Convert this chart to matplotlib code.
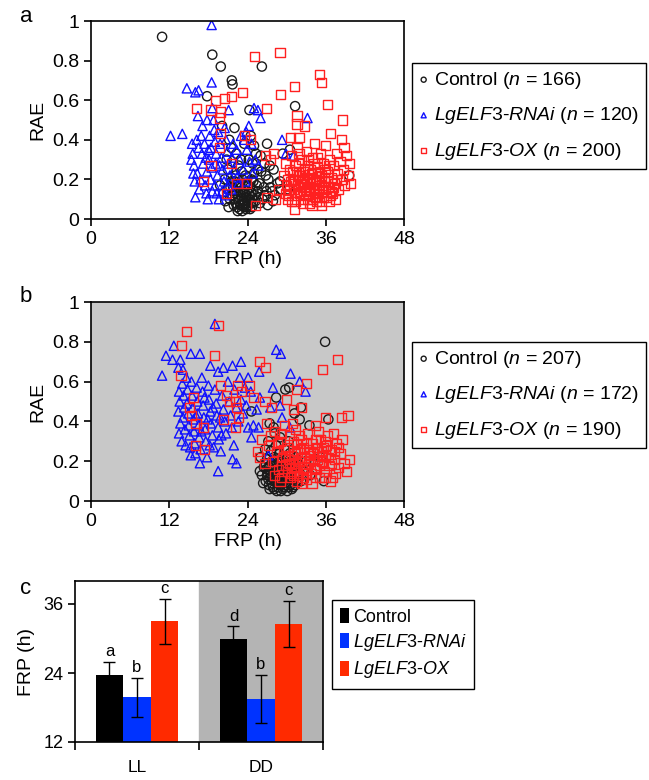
import matplotlib
matplotlib.use("Agg")
from matplotlib import pyplot as plt
from matplotlib.patches import Patch

plt.rcParams['font.family'] = ['Liberation Sans', 'DejaVu Sans']
plt.rcParams['mathtext.fontset'] = 'custom'
plt.rcParams['mathtext.it'] = 'Liberation Sans:italic'
plt.rcParams['mathtext.rm'] = 'Liberation Sans'

# ---- panel a (LL): (FRP h, RAE)
a_control = [
    (10.9, 0.92), (18.6, 0.83), (19.9, 0.77), (26.2, 0.77), (21.6, 0.70), (21.7, 0.68),
    (17.8, 0.62), (31.3, 0.57), (24.3, 0.55), (20.1, 0.47), (22.0, 0.46), (27.0, 0.38),
    (39.6, 0.22), (29.4, 0.33), (29.0, 0.19), (29.1, 0.15), (21.5, 0.36), (22.3, 0.33),
    (23.5, 0.38), (24.5, 0.42), (25.0, 0.37), (24.2, 0.30), (26.0, 0.32), (26.6, 0.28),
    (27.4, 0.27), (20.8, 0.30), (21.0, 0.25), (22.6, 0.27), (25.5, 0.25), (26.8, 0.22),
    (27.5, 0.16), (28.2, 0.12), (27.9, 0.09), (26.3, 0.10), (25.6, 0.14), (24.7, 0.06),
    (23.8, 0.05), (22.8, 0.05), (21.9, 0.07), (21.3, 0.10), (20.9, 0.15), (21.6, 0.19),
    (22.2, 0.22), (23.1, 0.24), (24.0, 0.21), (24.9, 0.19), (25.8, 0.18), (26.5, 0.16),
    (22.0, 0.13), (22.5, 0.16), (23.0, 0.12), (23.4, 0.09), (23.9, 0.14), (24.3, 0.10),
    (22.7, 0.09), (23.6, 0.17), (24.6, 0.13), (25.2, 0.09), (22.1, 0.10), (23.2, 0.20),
    (24.1, 0.07), (22.4, 0.06), (25.0, 0.23), (21.8, 0.16), (23.7, 0.11), (22.9, 0.14),
    (24.4, 0.16), (23.3, 0.07), (21.5, 0.21), (20.5, 0.20), (19.8, 0.17), (26.9, 0.14),
    (28.6, 0.18), (27.2, 0.20), (30.5, 0.35), (24.8, 0.28), (25.3, 0.33), (21.2, 0.40),
    (23.0, 0.30), (28.0, 0.25), (30.2, 0.15), (22.2, 0.08), (22.6, 0.11), (22.9, 0.07),
    (23.1, 0.10), (23.3, 0.13), (23.5, 0.06), (23.6, 0.08), (23.8, 0.12), (24.0, 0.09),
    (24.2, 0.13), (24.4, 0.05), (24.5, 0.08), (24.7, 0.11), (24.9, 0.14), (22.3, 0.14),
    (22.8, 0.17), (23.4, 0.15), (24.1, 0.17), (24.8, 0.08), (25.1, 0.12), (25.4, 0.17),
    (25.7, 0.11), (22.5, 0.04), (23.2, 0.04), (23.9, 0.06), (21.7, 0.12), (21.4, 0.16),
    (22.0, 0.19), (23.7, 0.22), (24.6, 0.20), (25.9, 0.08), (26.6, 0.12), (27.1, 0.07),
    (26.1, 0.24), (27.8, 0.14), (20.6, 0.09), (21.1, 0.06),
]
a_rnai = [
    (18.5, 0.98), (18.5, 0.69), (14.7, 0.66), (16.0, 0.64), (16.5, 0.65), (16.4, 0.52),
    (17.8, 0.50), (21.1, 0.55), (18.6, 0.56), (12.2, 0.42), (14.0, 0.43), (25.0, 0.56),
    (25.6, 0.55), (26.0, 0.51), (33.2, 0.51), (29.3, 0.40), (29.9, 0.33), (31.1, 0.32),
    (24.2, 0.47), (23.8, 0.44), (15.5, 0.38), (15.6, 0.33), (15.4, 0.30), (15.8, 0.27),
    (15.7, 0.23), (16.3, 0.23), (16.0, 0.11), (16.5, 0.36), (16.9, 0.42), (17.0, 0.33),
    (17.2, 0.28), (16.8, 0.20), (16.6, 0.15), (17.4, 0.38), (17.6, 0.31), (17.8, 0.24),
    (17.5, 0.17), (17.9, 0.10), (18.2, 0.42), (18.4, 0.36), (18.1, 0.30), (18.5, 0.26),
    (18.3, 0.20), (18.6, 0.14), (18.9, 0.45), (19.0, 0.39), (19.2, 0.33), (19.1, 0.28),
    (19.4, 0.22), (19.0, 0.17), (19.6, 0.10), (19.8, 0.38), (20.0, 0.31), (20.2, 0.25),
    (20.4, 0.19), (20.1, 0.14), (20.7, 0.40), (20.9, 0.34), (21.1, 0.28), (21.3, 0.22),
    (21.0, 0.17), (21.6, 0.31), (22.0, 0.25), (22.3, 0.35), (22.8, 0.30), (23.3, 0.25),
    (23.5, 0.40), (23.9, 0.35), (24.3, 0.29), (24.8, 0.23), (25.2, 0.30), (24.6, 0.38),
    (25.7, 0.27), (22.6, 0.18), (23.0, 0.42), (17.1, 0.47), (16.2, 0.40), (19.5, 0.44),
    (18.8, 0.50), (20.5, 0.46), (21.8, 0.38), (15.9, 0.19), (17.7, 0.13), (19.3, 0.13),
    (20.6, 0.12), (22.4, 0.21), (23.7, 0.19), (21.5, 0.15), (18.0, 0.35), (19.7, 0.27),
]
a_ox = [
    (25.1, 0.82), (29.0, 0.84), (35.1, 0.73), (35.3, 0.69), (31.2, 0.67), (29.1, 0.63),
    (26.9, 0.56), (36.3, 0.58), (38.6, 0.50), (31.6, 0.52), (31.6, 0.48), (32.8, 0.47),
    (36.7, 0.43), (30.6, 0.41), (31.9, 0.41), (38.4, 0.40), (38.8, 0.36), (39.6, 0.28),
    (39.2, 0.32), (31.2, 0.05), (23.2, 0.64), (21.6, 0.62), (20.5, 0.61), (19.1, 0.60),
    (16.2, 0.56), (18.4, 0.55), (19.9, 0.54), (19.7, 0.51), (19.8, 0.43), (19.7, 0.36),
    (23.6, 0.42), (21.6, 0.28), (18.4, 0.27), (17.2, 0.19), (22.4, 0.18), (23.8, 0.18),
    (20.8, 0.13), (25.2, 0.07), (26.8, 0.32), (28.0, 0.33), (28.8, 0.15), (27.5, 0.30),
    (27.0, 0.11), (28.3, 0.10), (24.4, 0.40), (39.8, 0.18), (38.9, 0.17), (39.5, 0.22),
    (29.6, 0.22), (29.8, 0.28), (30.0, 0.17), (30.3, 0.12), (30.5, 0.25), (30.7, 0.32),
    (30.9, 0.20), (31.1, 0.15), (31.3, 0.09), (31.4, 0.27), (31.6, 0.36), (31.8, 0.22),
    (32.0, 0.13), (32.1, 0.18), (32.3, 0.30), (32.5, 0.24), (32.6, 0.10), (32.8, 0.16),
    (33.0, 0.34), (33.1, 0.20), (33.2, 0.27), (33.4, 0.13), (33.5, 0.08), (33.7, 0.18),
    (33.8, 0.23), (34.0, 0.31), (34.1, 0.15), (34.3, 0.38), (34.4, 0.11), (34.6, 0.20),
    (34.7, 0.26), (34.9, 0.17), (35.0, 0.09), (35.2, 0.33), (35.3, 0.22), (35.5, 0.14),
    (35.6, 0.28), (35.8, 0.19), (36.0, 0.37), (36.1, 0.11), (36.3, 0.24), (36.4, 0.16),
    (36.6, 0.30), (36.8, 0.21), (37.0, 0.13), (37.2, 0.27), (37.4, 0.18), (37.6, 0.33),
    (37.8, 0.23), (38.0, 0.15), (38.2, 0.29), (38.5, 0.20), (38.7, 0.25), (32.4, 0.19),
    (33.6, 0.25), (34.5, 0.13), (35.7, 0.16), (31.0, 0.18), (32.9, 0.12), (34.8, 0.23),
    (36.5, 0.09), (33.3, 0.16), (31.5, 0.24), (35.1, 0.19), (36.9, 0.14), (30.2, 0.20),
    (32.7, 0.21), (34.2, 0.28), (35.9, 0.25), (37.5, 0.10), (33.9, 0.07), (31.9, 0.33),
    (29.9, 0.13), (30.8, 0.09), (30.4, 0.15), (30.6, 0.19), (31.2, 0.12), (31.7, 0.17),
    (32.2, 0.14), (32.6, 0.18), (33.0, 0.15), (33.2, 0.10), (33.6, 0.14), (33.9, 0.19),
    (34.3, 0.16), (34.6, 0.09), (34.9, 0.13), (35.3, 0.17), (35.6, 0.11), (36.0, 0.15),
    (36.3, 0.19), (36.7, 0.12), (37.1, 0.16), (37.7, 0.20), (31.3, 0.20), (32.0, 0.22),
    (32.8, 0.25), (33.5, 0.21), (34.2, 0.20), (35.0, 0.24), (35.8, 0.21), (36.5, 0.27),
    (30.9, 0.24), (31.8, 0.28), (33.3, 0.30), (34.7, 0.31), (32.4, 0.08), (34.0, 0.10),
    (35.4, 0.07), (30.1, 0.10),
]

# ---- panel b (DD)
b_control = [
    (35.9, 0.80), (29.8, 0.56), (30.4, 0.57), (28.4, 0.52), (32.2, 0.47), (36.4, 0.41),
    (33.5, 0.38), (28.0, 0.37), (25.9, 0.15), (30.8, 0.06), (35.7, 0.10), (24.6, 0.45),
    (32.0, 0.41), (27.4, 0.39), (31.2, 0.44), (30.3, 0.30), (26.2, 0.13), (26.5, 0.17),
    (26.8, 0.10), (27.0, 0.21), (27.1, 0.14), (27.3, 0.08), (27.5, 0.18), (27.6, 0.25),
    (27.8, 0.12), (27.9, 0.07), (28.0, 0.16), (28.1, 0.22), (28.3, 0.10), (28.4, 0.28),
    (28.5, 0.14), (28.6, 0.19), (28.7, 0.07), (28.8, 0.11), (28.9, 0.24), (29.0, 0.16),
    (29.1, 0.09), (29.2, 0.13), (29.3, 0.20), (29.4, 0.06), (29.5, 0.17), (29.6, 0.11),
    (29.7, 0.26), (29.8, 0.14), (29.9, 0.08), (30.0, 0.21), (30.1, 0.12), (30.2, 0.17),
    (30.4, 0.09), (30.5, 0.24), (30.6, 0.14), (30.8, 0.19), (30.9, 0.11), (31.1, 0.16),
    (31.3, 0.08), (31.4, 0.22), (31.6, 0.13), (31.9, 0.18), (32.2, 0.10), (32.5, 0.15),
    (27.2, 0.30), (28.2, 0.34), (29.0, 0.32), (26.0, 0.22), (26.7, 0.26), (28.6, 0.09),
    (29.3, 0.10), (28.0, 0.12), (27.6, 0.15), (30.3, 0.07), (29.7, 0.19), (33.0, 0.20),
    (33.6, 0.13), (34.5, 0.16), (35.2, 0.22), (26.9, 0.16), (27.2, 0.11), (27.4, 0.06),
    (27.7, 0.09), (28.1, 0.06), (28.3, 0.14), (28.5, 0.05), (28.9, 0.08), (29.1, 0.05),
    (29.4, 0.09), (29.6, 0.07), (29.9, 0.11), (30.1, 0.05), (30.6, 0.08), (30.7, 0.11),
    (31.0, 0.07), (31.2, 0.13), (27.0, 0.13), (27.5, 0.12), (28.2, 0.18), (28.8, 0.15),
    (29.5, 0.13), (30.0, 0.15), (30.5, 0.12), (31.5, 0.10), (26.4, 0.09), (26.8, 0.19),
    (27.3, 0.17), (27.8, 0.20), (28.7, 0.21), (29.2, 0.17), (29.8, 0.17), (30.3, 0.19),
    (31.0, 0.20), (32.0, 0.14),
]
b_rnai = [
    (19.0, 0.89), (12.7, 0.78), (11.5, 0.73), (12.5, 0.71), (13.7, 0.71), (10.9, 0.63),
    (13.4, 0.67), (15.3, 0.74), (16.7, 0.74), (14.1, 0.66), (18.3, 0.68), (19.5, 0.65),
    (20.3, 0.67), (21.7, 0.68), (23.0, 0.70), (24.1, 0.62), (25.8, 0.65), (28.4, 0.76),
    (29.1, 0.74), (30.6, 0.64), (32.0, 0.60), (32.9, 0.55), (27.9, 0.57), (25.9, 0.52),
    (25.4, 0.46), (27.5, 0.47), (29.0, 0.48), (29.3, 0.42), (24.1, 0.37), (24.9, 0.38),
    (25.7, 0.37), (24.6, 0.32), (30.5, 0.37), (27.2, 0.23), (19.5, 0.15), (21.7, 0.21),
    (22.3, 0.19), (13.5, 0.55), (13.6, 0.50), (13.4, 0.45), (13.7, 0.39), (13.5, 0.34),
    (13.9, 0.30), (14.0, 0.59), (14.2, 0.53), (14.3, 0.47), (14.1, 0.42), (14.4, 0.36),
    (14.6, 0.62), (14.8, 0.56), (14.7, 0.49), (14.9, 0.44), (15.0, 0.38), (15.1, 0.33),
    (15.2, 0.27), (15.4, 0.60), (15.5, 0.53), (15.6, 0.47), (15.7, 0.41), (15.8, 0.35),
    (15.9, 0.29), (16.0, 0.24), (16.2, 0.57), (16.3, 0.50), (16.4, 0.44), (16.5, 0.38),
    (16.6, 0.32), (16.8, 0.26), (17.0, 0.62), (17.1, 0.55), (17.2, 0.48), (17.3, 0.42),
    (17.5, 0.36), (17.6, 0.30), (17.8, 0.22), (18.0, 0.58), (18.1, 0.51), (18.3, 0.45),
    (18.4, 0.39), (18.6, 0.33), (18.8, 0.27), (19.0, 0.56), (19.2, 0.49), (19.3, 0.43),
    (19.5, 0.37), (19.6, 0.31), (19.9, 0.25), (20.1, 0.53), (20.3, 0.46), (20.5, 0.40),
    (20.7, 0.34), (21.0, 0.60), (21.2, 0.50), (21.4, 0.43), (21.6, 0.37), (22.0, 0.56),
    (22.3, 0.47), (22.6, 0.40), (23.0, 0.51), (23.3, 0.44), (23.6, 0.57), (14.5, 0.28),
    (15.3, 0.23), (16.1, 0.43), (17.4, 0.52), (18.7, 0.47), (19.8, 0.42), (16.9, 0.35),
    (18.2, 0.28), (20.0, 0.33), (21.9, 0.28), (23.8, 0.48), (24.5, 0.55), (22.8, 0.62),
    (17.9, 0.41), (16.7, 0.19),
]
b_ox = [
    (14.6, 0.85), (19.6, 0.88), (13.9, 0.78), (18.9, 0.73), (13.8, 0.63), (15.7, 0.52),
    (15.1, 0.47), (15.4, 0.43), (16.1, 0.39), (17.3, 0.37), (16.0, 0.28), (17.4, 0.26),
    (19.8, 0.58), (20.8, 0.53), (22.1, 0.50), (20.3, 0.41), (22.1, 0.37), (22.6, 0.42),
    (25.9, 0.70), (26.8, 0.67), (22.5, 0.58), (23.1, 0.55), (24.3, 0.58), (24.9, 0.52),
    (21.2, 0.50), (22.3, 0.47), (26.7, 0.50), (27.7, 0.47), (26.9, 0.39), (30.0, 0.51),
    (31.0, 0.46), (32.3, 0.47), (33.1, 0.59), (31.5, 0.56), (35.5, 0.66), (37.8, 0.71),
    (36.0, 0.42), (38.4, 0.42), (39.4, 0.43), (39.7, 0.21), (39.2, 0.15), (37.5, 0.14),
    (25.9, 0.22), (26.7, 0.19), (29.2, 0.12), (31.5, 0.10), (32.3, 0.09), (30.8, 0.14),
    (25.5, 0.25), (26.2, 0.31), (27.5, 0.33), (27.3, 0.28), (27.8, 0.20), (28.2, 0.35),
    (28.5, 0.25), (28.8, 0.16), (29.1, 0.30), (29.4, 0.22), (29.7, 0.38), (29.9, 0.18),
    (30.2, 0.27), (30.4, 0.33), (30.6, 0.12), (30.8, 0.23), (31.0, 0.30), (31.2, 0.17),
    (31.4, 0.36), (31.6, 0.25), (31.8, 0.13), (32.0, 0.20), (32.2, 0.31), (32.4, 0.16),
    (32.6, 0.27), (32.8, 0.22), (33.0, 0.11), (33.2, 0.34), (33.4, 0.19), (33.6, 0.25),
    (33.8, 0.14), (34.0, 0.29), (34.2, 0.21), (34.4, 0.38), (34.6, 0.16), (34.8, 0.25),
    (35.0, 0.12), (35.2, 0.31), (35.4, 0.20), (35.6, 0.27), (35.8, 0.15), (36.0, 0.23),
    (36.3, 0.33), (36.5, 0.18), (36.8, 0.26), (37.0, 0.12), (37.3, 0.21), (37.6, 0.29),
    (37.9, 0.17), (38.2, 0.24), (38.5, 0.31), (38.8, 0.19), (30.1, 0.15), (31.1, 0.21),
    (32.1, 0.26), (33.1, 0.17), (34.1, 0.24), (35.1, 0.18), (36.1, 0.28), (29.6, 0.26),
    (30.5, 0.19), (31.5, 0.29), (32.5, 0.12), (33.5, 0.23), (34.5, 0.31), (35.5, 0.23),
    (28.1, 0.13), (29.0, 0.10), (33.9, 0.09), (36.7, 0.10), (34.9, 0.35), (29.3, 0.18),
    (29.8, 0.23), (30.3, 0.21), (30.7, 0.17), (31.3, 0.24), (31.7, 0.19), (32.3, 0.22),
    (32.7, 0.17), (33.3, 0.26), (33.7, 0.20), (34.3, 0.17), (34.7, 0.21), (35.3, 0.25),
    (35.7, 0.19), (36.4, 0.22), (36.9, 0.19), (37.4, 0.25), (31.9, 0.33), (33.0, 0.29),
    (34.6, 0.27), (35.9, 0.30), (32.9, 0.14), (34.4, 0.12), (35.9, 0.12), (31.0, 0.13),
    (28.6, 0.29), (29.2, 0.34), (30.9, 0.39), (37.2, 0.34), (38.0, 0.27),
]

a_counts = [166, 120, 200]
b_counts = [207, 172, 190]

# ---- panel c: mean FRP and error
conditions = ["LL", "DD"]
frp_control = [23.6, 30.0]
frp_rnai = [19.8, 19.5]
frp_ox = [33.0, 32.6]
err_control = [2.3, 2.1]
err_rnai = [3.4, 4.2]
err_ox = [3.9, 4.0]
letters_control = ["a", "d"]
letters_rnai = ["b", "b"]
letters_ox = ["c", "c"]

W, H = 649, 780
fig = plt.figure(figsize=(W / 100, H / 100), dpi=100)


def px_axes(left, top, right, bottom):
    return fig.add_axes([left / W, 1 - bottom / H, (right - left) / W, (bottom - top) / H])


def scatter_panel(ax, ctrl, rnai, ox, counts, legend_top):
    series = [
        (ctrl, "o", "#1a1a1a", "Control ($n$ = %d)" % counts[0]),
        (rnai, "^", "#1010ff", "$LgELF3$-$RNAi$ ($n$ = %d)" % counts[1]),
        (ox, "s", "#ff2020", "$LgELF3$-$OX$ ($n$ = %d)" % counts[2]),
    ]
    for pts, mk, col, lab in series:
        xs = [p[0] for p in pts]
        ys = [p[1] for p in pts]
        ax.scatter(xs, ys, marker=mk, s=44, facecolors="none", edgecolors=col,
                   linewidths=1.0, label=lab)
    ax.set_xlim(0, 48)
    ax.set_ylim(0, 1)
    ax.set_xticks([0, 12, 24, 36, 48])
    ax.set_yticks([0, 0.2, 0.4, 0.6, 0.8, 1])
    ax.set_yticklabels(["0", "0.2", "0.4", "0.6", "0.8", "1"])
    ax.tick_params(direction="out", length=5, width=1.2, labelsize=14)
    for s in ax.spines.values():
        s.set_linewidth(1.2)
    ax.set_xlabel("FRP (h)", fontsize=14, labelpad=2)
    ax.set_ylabel("RAE", fontsize=14, labelpad=4)
    leg = ax.legend(loc="upper left", bbox_to_anchor=(412 / W, 1 - legend_top / H),
                    bbox_transform=fig.transFigure, fontsize=14, frameon=True,
                    fancybox=False, edgecolor="black", framealpha=1,
                    handlelength=0.5, handletextpad=0.3, borderpad=0.35,
                    labelspacing=0.75, markerscale=0.55, borderaxespad=0)
    leg.get_frame().set_linewidth(1.0)


ax_a = px_axes(91, 21, 404, 219)
scatter_panel(ax_a, a_control, a_rnai, a_ox, a_counts, 63)
fig.text(20 / W, 1 - 17 / H, "a", fontsize=16, ha="left", va="center")

ax_b = px_axes(91, 302, 404, 501)
ax_b.set_facecolor("#c8c8c8")
scatter_panel(ax_b, b_control, b_rnai, b_ox, b_counts, 342)
fig.text(20 / W, 1 - 296 / H, "b", fontsize=16, ha="left", va="center")

# ---- panel c
ax_c = px_axes(75, 581, 323, 742)
ax_c.axvspan(0.5, 1.5, color="#b4b4b4", zorder=0)
width = 0.222
pos = [0, 1]
groups = [
    (frp_control, err_control, letters_control, "#000000", -width, "Control"),
    (frp_rnai, err_rnai, letters_rnai, "#0033ff", 0, "$LgELF3$-$RNAi$"),
    (frp_ox, err_ox, letters_ox, "#ff2a00", width, "$LgELF3$-$OX$"),
]
handles = []
for vals, errs, lets, col, off, lab in groups:
    xs = [p + off for p in pos]
    ax_c.bar(xs, [v - 12 for v in vals], width=width, bottom=12, color=col, zorder=2)
    ax_c.errorbar(xs, vals, yerr=errs, fmt="none", ecolor="black", elinewidth=1.0,
                  capsize=4, capthick=1.0, zorder=3)
    for x, v, e, t in zip(xs, vals, errs, lets):
        ax_c.text(x, v + e + 0.5, t, ha="center", va="bottom", fontsize=12)
    handles.append(Patch(facecolor=col, label=lab))

ax_c.set_xlim(-0.5, 1.5)
ax_c.set_ylim(12, 40)
ax_c.set_yticks([12, 24, 36])
ax_c.set_xticks([-0.5, 0.5, 1.5])
ax_c.set_xticklabels([])
ax_c.set_xticks(pos, minor=True)
ax_c.set_xticklabels(conditions, minor=True)
ax_c.tick_params(axis="x", which="minor", length=0, pad=13, labelsize=12.5)
ax_c.tick_params(axis="x", which="major", direction="out", length=6, width=1.2)
ax_c.tick_params(axis="y", direction="out", length=5, width=1.2, labelsize=13)
for s in ax_c.spines.values():
    s.set_linewidth(1.2)
ax_c.set_ylabel("FRP (h)", fontsize=14, labelpad=6)
leg_c = ax_c.legend(handles=handles, loc="upper left", bbox_to_anchor=(332 / W, 1 - 600 / H),
                    bbox_transform=fig.transFigure, fontsize=13, frameon=True,
                    fancybox=False, edgecolor="black", framealpha=1,
                    handlelength=0.5, handleheight=0.9, handletextpad=0.2,
                    borderpad=0.45, labelspacing=0.35, borderaxespad=0)
leg_c.get_frame().set_linewidth(1.0)
fig.text(20 / W, 1 - 588 / H, "c", fontsize=16, ha="left", va="center")

fig.savefig("out.png", dpi=100)
